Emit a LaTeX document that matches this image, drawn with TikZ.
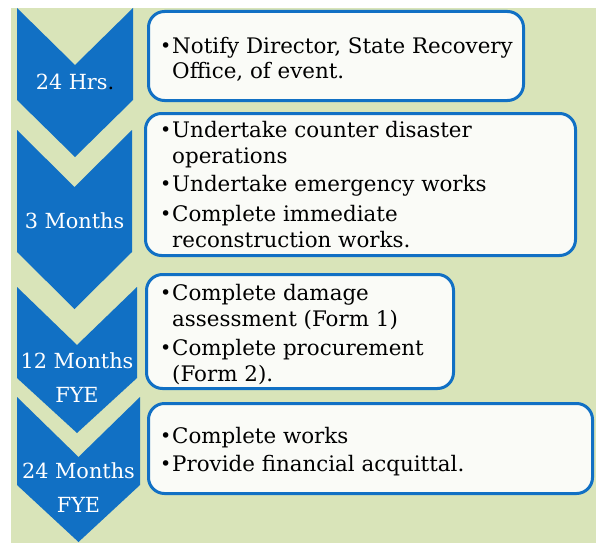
\documentclass[tikz,border=0pt]{standalone}
\usepackage{fontspec}
\setmainfont{DejaVu Serif}
\definecolor{bggreen}{HTML}{D9E4B9}
\definecolor{cblue}{HTML}{1170C4}
\definecolor{boxfill}{HTML}{FAFBF7}
\newcommand{\chevron}[6]{% xl xr ytop ybot depthtop depthbot
  \fill[cblue] (#1,#3) -- ({(#1+#2)/2},{#3+#5}) -- (#2,#3) -- (#2,#4)
    -- ({(#1+#2)/2},{#4+#6}) -- (#1,#4) -- cycle;}
\newcommand{\bul}{\makebox[12pt][l]{\raisebox{0.8pt}{\fontsize{19}{19}\selectfont\textbullet}}}
\begin{document}
\begin{tikzpicture}[x=1pt,y=-1pt,
  stepbox/.style={draw=cblue, line width=3pt, fill=boxfill, rounded corners=16pt},
  line/.style={anchor=base west, inner sep=0pt, font=\fontsize{21.4}{26}\selectfont, text=black},
  lab/.style={anchor=base, inner sep=0pt, font=\fontsize{20.8}{26}\selectfont, text=white}]
\useasboundingbox (0,0) rectangle (596,543);
\fill[bggreen] (11,8) rectangle (596,543);
% chevrons
\chevron{17}{133}{8}{100}{57}{57}
\chevron{17}{132}{130}{252}{57}{57}
\chevron{17}{137}{287}{378}{58}{55}
\chevron{17}{140}{397}{485}{60}{57}
% labels
\node[lab] (l1) at (75,89) {24 Hrs\textcolor{black}{.}};
\node[lab] (l2) at (74.5,228) {3 Months};
\node[lab] (l3a) at (77,368) {12 Months};
\node[lab] (l3b) at (77,402) {FYE};
\node[lab] (l4a) at (78.5,478) {24 Months};
\node[lab] (l4b) at (78.5,512) {FYE};
% boxes
\draw[stepbox] (148.5,11.5) rectangle (523.5,100.5);
\draw[stepbox] (145.5,113.5) rectangle (575.5,255.5);
\draw[stepbox] (146.5,274.5) rectangle (453.5,388.5);
\draw[stepbox] (148.5,403.5) rectangle (592.5,493.5);
% box 1 text
\node[line] (t1a) at (160,53) {\bul Notify Director, State Recovery};
\node[line] (t1b) at (172,78) {Office, of event.};
% box 2 text
\node[line] (t2a) at (160,137) {\bul Undertake counter disaster};
\node[line] (t2b) at (172,163) {operations};
\node[line] (t2c) at (160,191) {\bul Undertake emergency works};
\node[line] (t2d) at (160,221) {\bul Complete immediate};
\node[line] (t2e) at (172,247) {reconstruction works.};
% box 3 text
\node[line] (t3a) at (160,300) {\bul Complete damage};
\node[line] (t3b) at (172,326) {assessment (Form 1)};
\node[line] (t3c) at (160,355) {\bul Complete procurement};
\node[line] (t3d) at (172,381) {(Form 2).};
% box 4 text
\node[line] (t4a) at (160,443) {\bul Complete works};
\node[line] (t4b) at (160,471) {\bul Provide financial acquittal.};
\end{tikzpicture}
\end{document}
